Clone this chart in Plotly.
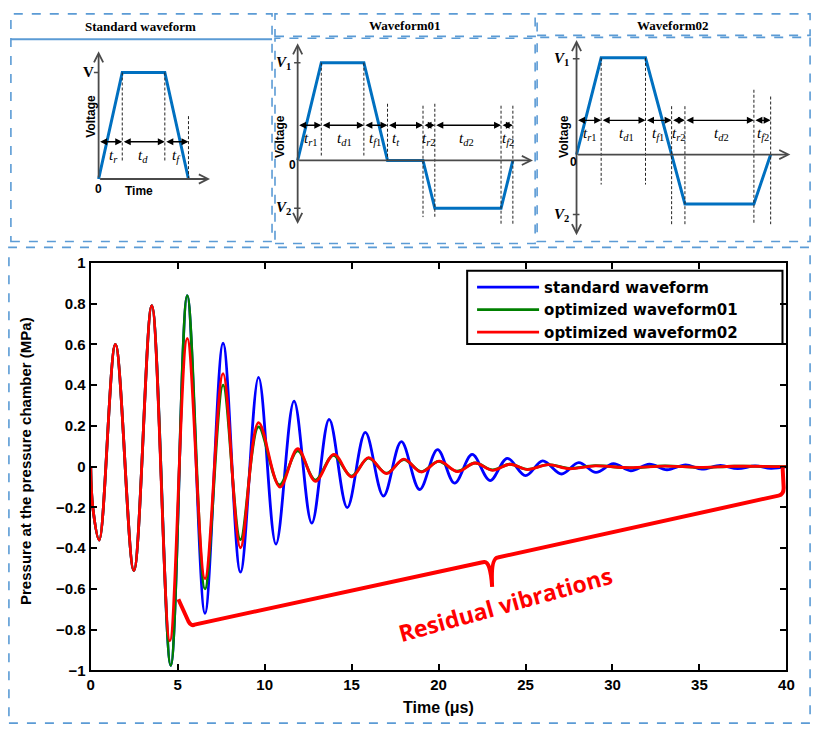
import plotly.graph_objects as go

W, H = 823, 736

# ---------------- main chart data (pressure, MPa) ----------------
t_std = [0, 0.12, 0.49, 1.42, 2.48, 3.51, 4.6, 5.55, 6.57, 7.61, 8.61, 9.65, 10.65, 11.69, 12.71,
         13.71, 14.75, 15.79, 16.83, 17.86, 18.91, 19.94, 20.92, 21.93, 22.96, 23.95, 25.0, 25.99,
         27.07, 28.06, 29.05, 30.05, 31.05, 32.12, 33.13, 34.2, 35.14, 36.2, 37.2, 38.2, 39.1, 40]
p_std = [0, -0.2, -0.36, 0.6, -0.51, 0.79, -0.976, 0.84, -0.72, 0.606, -0.518, 0.438, -0.38, 0.322,
         -0.277, 0.232, -0.201, 0.168, -0.144, 0.123, -0.112, 0.084, -0.081, 0.06, -0.068, 0.041,
         -0.044, 0.028, -0.036, 0.02, -0.028, 0.015, -0.02, 0.012, -0.015, 0.009, -0.012, 0.006,
         -0.01, 0.004, -0.008, 0.0]

t_wf01 = [0, 0.12, 0.49, 1.42, 2.48, 3.51, 4.6, 5.55, 6.57, 7.61, 8.61, 9.65, 10.85, 11.9, 12.92,
          13.95, 14.98, 15.97, 17.0, 18.0, 19.0, 20.0, 21.05, 22.1, 23.1, 24.1, 25.1, 26.3, 27.5,
          29, 31, 33, 35, 37, 40]
p_wf01 = [0, -0.2, -0.36, 0.6, -0.51, 0.79, -0.976, 0.84, -0.60, 0.40, -0.358, 0.195, -0.09, 0.078,
          -0.066, 0.056, -0.046, 0.042, -0.032, 0.035, -0.024, 0.026, -0.022, 0.018, -0.016, 0.012,
          -0.013, 0.01, -0.008, 0.005, -0.006, 0.004, -0.004, 0.002, 0]

t_wf02 = [0, 0.12, 0.49, 1.42, 2.48, 3.51, 4.55, 5.55, 6.57, 7.61, 8.61, 9.65, 10.88, 11.9, 12.92,
          13.99, 15.0, 15.97, 17.01, 18.0, 19.0, 20.04, 21.08, 22.1, 23.1, 24.1, 25.1, 26.3, 27.5,
          29, 31, 33, 35, 37, 40]
p_wf02 = [0, -0.2, -0.36, 0.6, -0.51, 0.79, -0.855, 0.63, -0.55, 0.457, -0.398, 0.216, -0.10, 0.088,
          -0.072, 0.06, -0.05, 0.044, -0.034, 0.037, -0.026, 0.027, -0.024, 0.018, -0.018, 0.012,
          -0.014, 0.01, -0.01, 0.004, -0.005, 0.003, -0.003, 0.002, 0]

series_names = ["standard waveform", "optimized waveform01", "optimized waveform02"]
x_ticks = [0, 5, 10, 15, 20, 25, 30, 35, 40]
y_ticks = [-1, -0.8, -0.6, -0.4, -0.2, 0, 0.2, 0.4, 0.6, 0.8, 1]

# ---------------- drive waveform diagrams ----------------
std_t = [0, 1, 2.8, 3.8]
std_v = [0, 1, 1, 0]
std_bounds = [0, 1, 2.8, 3.8]
std_labels = ["<i>t</i><sub><i>r</i></sub>", "<i>t</i><sub><i>d</i></sub>", "<i>t</i><sub><i>f</i></sub>"]

w01_t = [0, 1, 2.8, 3.8, 5.3, 5.8, 8.6, 9.1]
w01_v = [0, 1, 1, 0, 0, -0.49, -0.49, 0]
w01_bounds = [0, 1, 2.8, 3.8, 5.3, 5.8, 8.6, 9.1]
w01_labels = ["<i>t</i><sub><i>r</i>1</sub>", "<i>t</i><sub><i>d</i>1</sub>", "<i>t</i><sub><i>f</i>1</sub>",
              "<i>t</i><sub><i>t</i></sub>", "<i>t</i><sub><i>r</i>2</sub>", "<i>t</i><sub><i>d</i>2</sub>",
              "<i>t</i><sub><i>f</i>2</sub>"]

w02_t = [0, 1, 2.8, 4.4, 7.2, 7.88]
w02_v = [0, 1, 1, -0.51, -0.51, 0]
w02_bounds = [0, 1, 2.8, 3.86, 4.4, 7.2, 7.88]
w02_labels = ["<i>t</i><sub><i>r</i>1</sub>", "<i>t</i><sub><i>d</i>1</sub>", "<i>t</i><sub><i>f</i>1</sub>",
              "<i>t</i><sub><i>r</i>2</sub>", "<i>t</i><sub><i>d</i>2</sub>", "<i>t</i><sub><i>f</i>2</sub>"]

BLUE_W = "#0070C0"
FRAME = "#5B9BD5"
AX_GREY = "#4a4a4a"
SANS = "Liberation Sans"
SERIF = "Liberation Serif"

fig = go.Figure()
layout = {}
shapes = []
annos = []


def px(x):
    return x / W


def py(y):
    return 1 - y / H


# main axes
fig.add_trace(go.Scatter(x=t_std, y=p_std, name=series_names[0], mode="lines",
                         line=dict(color="#0000FF", width=2.8, shape="spline", smoothing=1.0)))
fig.add_trace(go.Scatter(x=t_wf01, y=p_wf01, name=series_names[1], mode="lines",
                         line=dict(color="#008000", width=2.8, shape="spline", smoothing=1.0)))
fig.add_trace(go.Scatter(x=t_wf02, y=p_wf02, name=series_names[2], mode="lines",
                         line=dict(color="#FF0000", width=2.8, shape="spline", smoothing=1.0)))

tickfont = dict(family=SANS, size=15, color="black", weight="bold")
layout["xaxis"] = dict(domain=[px(88), px(794)], range=[0, 40], tickvals=x_ticks,
                       ticks="inside", ticklen=6, tickwidth=2, tickcolor="black",
                       showline=True, linecolor="black", linewidth=2, mirror="ticks",
                       showgrid=False, zeroline=False, tickfont=tickfont, anchor="y")
layout["yaxis"] = dict(domain=[py(677), py(260)], range=[-1, 1], tickvals=y_ticks,
                       ticks="inside", ticklen=6, tickwidth=2, tickcolor="black",
                       showline=True, linecolor="black", linewidth=2, mirror="ticks",
                       showgrid=False, zeroline=False, tickfont=tickfont, anchor="x")


def diag_axes(n, ox, oy, sx, sy, xr, yr):
    xd = [(ox + sx * xr[0]) / W, (ox + sx * xr[1]) / W]
    yd = [1 - (oy - sy * yr[0]) / H, 1 - (oy - sy * yr[1]) / H]
    layout[f"xaxis{n}"] = dict(domain=xd, range=xr, visible=False, anchor=f"y{n}", fixedrange=True)
    layout[f"yaxis{n}"] = dict(domain=yd, range=yr, visible=False, anchor=f"x{n}", fixedrange=True)


def arrow(n, x0, y0, x1, y1, both=False, head=2, color="black", width=1.4, size=1.0):
    d = dict(x=x1, y=y1, ax=x0, ay=y0, xref=f"x{n}", yref=f"y{n}", axref=f"x{n}", ayref=f"y{n}",
             text="", showarrow=True, arrowhead=head, arrowsize=size, arrowwidth=width,
             arrowcolor=color)
    if both:
        d.update(arrowside="end+start", startarrowhead=head, startarrowsize=size)
    annos.append(d)


def vline(n, x, y0, y1):
    shapes.append(dict(type="line", xref=f"x{n}", yref=f"y{n}", x0=x, x1=x, y0=y0, y1=y1,
                       line=dict(color="#222", width=1, dash="3px,2px")))


def hline(n, x0, x1, y, color=AX_GREY, width=1.6):
    shapes.append(dict(type="line", xref=f"x{n}", yref=f"y{n}", x0=x0, x1=x1, y0=y, y1=y,
                       line=dict(color=color, width=width)))


def text(n, x, y, s, size=13, family=SERIF, weight="normal", angle=0, color="black"):
    annos.append(dict(x=x, y=y, xref=f"x{n}", yref=f"y{n}", text=s, showarrow=False,
                      xanchor="center", yanchor="middle", textangle=angle,
                      font=dict(family=family, size=size, color=color, weight=weight)))


def draw_diagram(n, tt, vv, bounds, labels, ydim, ylab, label_x, dashes, xend, ytop, ybot,
                 both_y, vlabels, voltage_xy, zero_xy):
    arrow(n, 0, ybot if both_y else 0, 0, ytop, both=both_y, head=5, color=AX_GREY, width=1.8, size=1)
    arrow(n, 0, 0, xend, 0, head=5, color=AX_GREY, width=1.8, size=1)
    fig.add_trace(go.Scatter(x=tt, y=vv, xaxis=f"x{n}", yaxis=f"y{n}", mode="lines",
                             line=dict(color=BLUE_W, width=3), showlegend=False, hoverinfo="skip"))
    for (x, a, b) in dashes:
        vline(n, x, a, b)
    for i in range(len(bounds) - 1):
        arrow(n, bounds[i], ydim, bounds[i + 1], ydim, both=True, head=2, width=1.4, size=1)
    for lx, lab in zip(label_x, labels):
        text(n, lx, ylab, lab, size=15)
    for (s, v, xl, tick) in vlabels:
        hline(n, tick[0], tick[1], v)
        text(n, xl, v, s, size=15, weight="bold")
    text(n, voltage_xy[0], voltage_xy[1], "Voltage", size=12, family=SANS, weight="bold", angle=-90)
    text(n, zero_xy[0], zero_xy[1], "0", size=12, family=SANS, weight="bold")


# Diagram 1: standard waveform
diag_axes(2, 96, 174, 24, 109, [-1.5, 5.2], [-0.6, 1.3])
draw_diagram(2, std_t, std_v, std_bounds, std_labels, 0.349, 0.22, [0.62, 1.87, 3.3],
             [(1, 1, 0.17), (2.8, 1, 0.17), (3.8, 0.59, 0)], 4.71, 1.2, 0, False,
             [("V", 1, -0.42, (-0.2, 0))], (-0.3, 0.59), (-0.02, -0.09))
text(2, 1.72, -0.11, "Time", size=12, family=SANS, weight="bold")

# Diagram 2: waveform01
diag_axes(3, 298, 155, 24, 100, [-1.2, 10.2], [-0.8, 1.3])
draw_diagram(3, w01_t, w01_v, w01_bounds, w01_labels, 0.36, 0.22,
             [0.57, 1.96, 3.25, 4.17, 5.54, 7.13, 8.9],
             [(1, 1, 0.05), (2.8, 1, 0.05), (3.8, 0.58, 0), (5.3, 0.56, -0.58), (5.8, 0.58, -0.58),
              (8.6, 0.56, -0.667), (9.1, 0.56, -0.667)],
             9.95, 1.2, -0.667, True,
             [("<i>V</i><sub>1</sub>", 1, -0.6, (-0.15, 0.12)), ("<i>V</i><sub>2</sub>", -0.49, -0.6, (-0.15, 0.12))],
             (-0.75, 0.25), (-0.22, -0.05))

# Diagram 3: waveform02
diag_axes(4, 581, 149, 25, 99, [-1.0, 8.9], [-0.95, 1.25])
draw_diagram(4, w02_t, w02_v, w02_bounds, w02_labels, 0.354, 0.21,
             [0.56, 2.03, 3.32, 4.16, 5.88, 7.56],
             [(1, 1, -0.31), (2.8, 1, -0.31), (3.86, 0.5, -0.72), (4.4, 0.5, -0.72), (7.2, 0.67, -0.72),
              (7.88, 0.6, -0.72)],
             8.68, 1.185, -0.85, True,
             [("<i>V</i><sub>1</sub>", 0.99, -0.6, (-0.15, 0.12)), ("<i>V</i><sub>2</sub>", -0.62, -0.6, (-0.15, 0.12))],
             (-0.52, 0.19), (-0.13, -0.08))


# ---------------- frames ----------------
def rect(x0, y0, x1, y1, dash="dash", width=1.6):
    shapes.append(dict(type="rect", xref="paper", yref="paper", x0=px(x0), x1=px(x1), y0=py(y1), y1=py(y0),
                       line=dict(color=FRAME, width=width, dash=dash), fillcolor="rgba(0,0,0,0)"))


rect(7, 5, 272, 238)
shapes.append(dict(type="line", xref="paper", yref="paper", x0=px(7), x1=px(272), y0=py(31), y1=py(31),
                   line=dict(color=FRAME, width=2)))
rect(275, 5, 539, 28)
rect(275, 30, 539, 240)
rect(541, 5, 818, 27)
rect(541, 29, 818, 238)
rect(5, 244, 818, 731)


def paper_text(x, y, s, size, family=SANS, weight="bold", angle=0, color="black"):
    annos.append(dict(x=px(x), y=py(y), xref="paper", yref="paper", text=s, showarrow=False,
                      xanchor="center", yanchor="middle", textangle=angle,
                      font=dict(family=family, size=size, color=color, weight=weight)))


paper_text(139, 18, "Standard waveform", 13, family=SERIF)
paper_text(406, 17, "Waveform01", 13, family=SERIF)
paper_text(678, 17, "Waveform02", 13, family=SERIF)

# legend box
shapes.append(dict(type="rect", xref="paper", yref="paper", x0=px(470), x1=px(790), y0=py(343), y1=py(268),
                   line=dict(color="black", width=2), fillcolor="rgba(0,0,0,0)"))

# brace marking residual vibrations (annotation graphic, data coords)
brace = ("M 5.04,-0.651 L 5.62,-0.76 Q 5.78,-0.785 5.98,-0.775 L 22.6,-0.468 "
         "Q 22.98,-0.46 23.08,-0.59 M 23.08,-0.59 Q 23.0,-0.45 23.4,-0.446 "
         "L 39.55,-0.142 Q 39.86,-0.136 39.84,-0.1 L 39.78,-0.003")
shapes.append(dict(type="path", xref="x", yref="y", path=brace, line=dict(color="#FF0000", width=4)))

annos.append(dict(x=23.85, y=-0.675, xref="x", yref="y", text="Residual vibrations", showarrow=False,
                  xanchor="center", yanchor="middle", textangle=-15.5,
                  font=dict(family="Open Sans", size=23, color="#FF0000", weight="bold")))

# axis titles
paper_text(22, 463, "Pressure at the pressure chamber (MPa)", 15, angle=-90)
paper_text(441, 715, "Time (μs)", 16)

fig.update_layout(
    width=W, height=H, autosize=False,
    margin=dict(l=0, r=0, t=0, b=0),
    paper_bgcolor="white", plot_bgcolor="white",
    showlegend=True,
    legend=dict(x=px(475), y=py(268), xanchor="left", yanchor="top", bgcolor="rgba(0,0,0,0)",
                borderwidth=0, itemwidth=62, tracegroupgap=0,
                font=dict(family="DejaVu Sans", size=15, color="black", weight="bold")),
    shapes=shapes, annotations=annos,
    **layout,
)

css_fix = ("var s=document.createElement('style');"
           "s.textContent='html,body{margin:0;padding:0;overflow:hidden;width:823px;height:736px;}"
           ".plotly-graph-div{position:fixed;left:0;top:0;}';"
           "document.head.appendChild(s);")
fig.write_html("out.html", config={"displayModeBar": False}, post_script=css_fix)
